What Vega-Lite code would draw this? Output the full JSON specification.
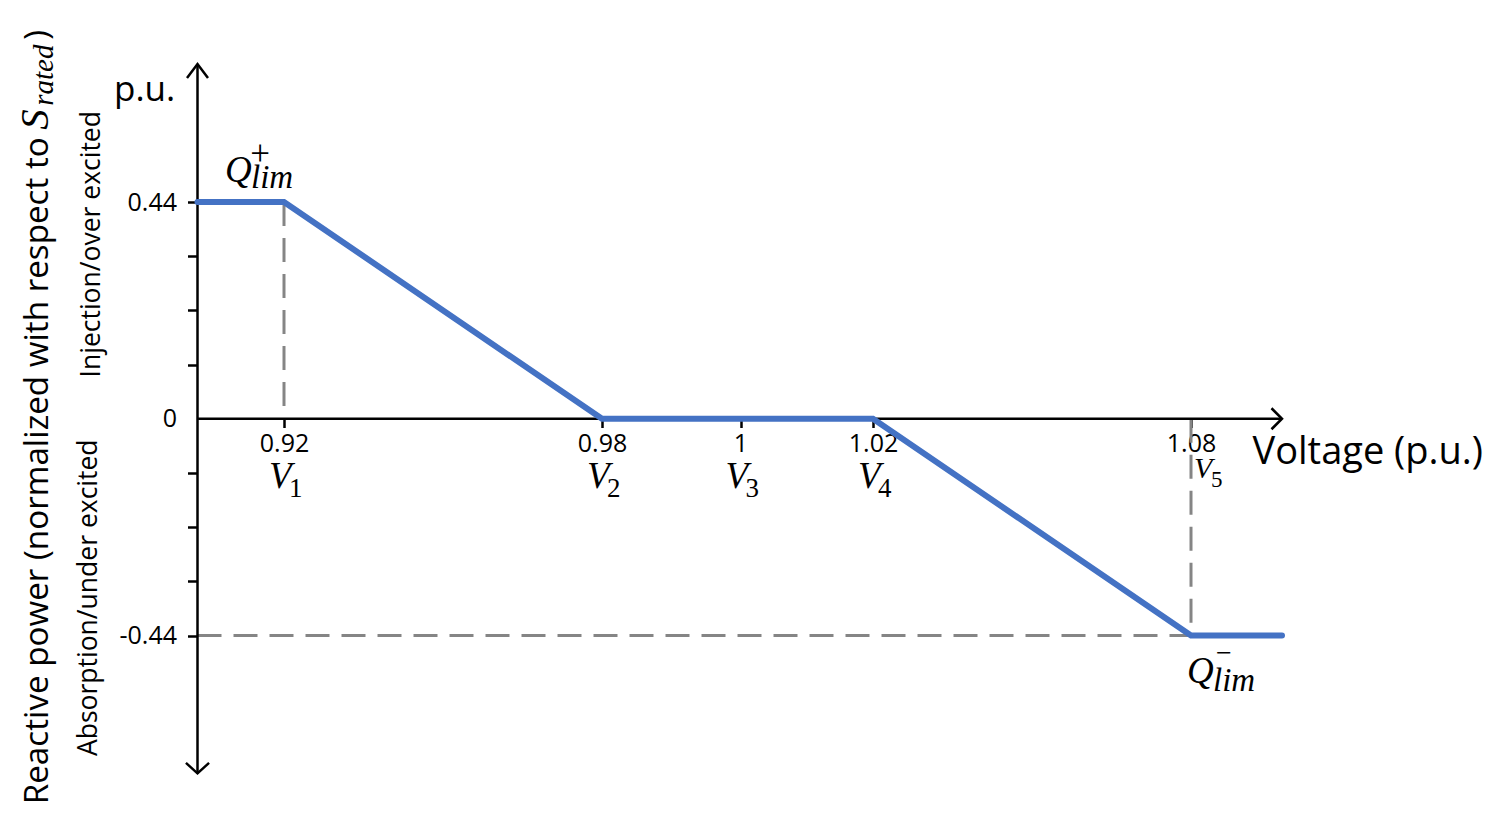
{
  "$schema": "https://vega.github.io/schema/vega-lite/v6.json",
  "width": 1510,
  "height": 827,
  "autosize": {"type": "none"},
  "padding": 0,
  "background": "white",
  "config": {
    "view": {"stroke": null},
    "axis": {
      "grid": false,
      "domain": false,
      "labelFont": "Open Sans",
      "labelFontSize": 25,
      "labelColor": "#000000",
      "tickColor": "#000000",
      "tickWidth": 2.5,
      "titleFont": "Open Sans",
      "titleFontWeight": "normal",
      "titleColor": "#000000",
      "labelFlush": false,
      "labelOverlap": false
    }
  },
  "datasets": {
    "curve": [
      {"x": 0.9, "y": 0.44},
      {"x": 0.92, "y": 0.44},
      {"x": 0.98, "y": 0},
      {"x": 1.02, "y": 0},
      {"x": 1.08, "y": -0.44},
      {"x": 1.1, "y": -0.44}
    ],
    "axislines": [
      {"x": 0.9, "x2": 0.9, "y": -0.72, "y2": 0.72},
      {"x": 0.9, "x2": 1.1, "y": 0, "y2": 0}
    ],
    "arrows": [
      {"x": 0.9, "y": 0.72, "dir": "up"},
      {"x": 0.9, "y": -0.72, "dir": "down"},
      {"x": 1.1, "y": 0, "dir": "right"}
    ],
    "guides": [
      {"x": 0.92, "x2": 0.92, "y": 0.44, "y2": 0},
      {"x": 1.08, "x2": 1.08, "y": 0, "y2": -0.44},
      {"x": 0.9, "x2": 1.08, "y": -0.44, "y2": -0.44}
    ],
    "vlabels": [
      {"x": 0.92, "y": 0, "sub": "1"},
      {"x": 0.98, "y": 0, "sub": "2"},
      {"x": 1, "y": 0, "sub": "3"},
      {"x": 1.02, "y": 0, "sub": "4"},
      {"x": 1.08, "y": 0, "sub": "5"}
    ],
    "qlim": [
      {"x": 0.92, "y": 0.44, "sign": "+"},
      {"x": 1.08, "y": -0.44, "sign": "−"}
    ],
    "origin": [
      {"x": 0.9, "y": 0}
    ]
  },
  "encoding": {
    "x": {
      "field": "x",
      "type": "quantitative",
      "scale": {
        "domain": [0.9, 0.92, 0.98, 1, 1.02, 1.08, 1.1],
        "range": [197.5, 284, 602, 740.5, 873, 1191, 1282],
        "nice": false,
        "zero": false
      },
      "axis": {
        "orient": "bottom",
        "offset": -408.5,
        "values": [0.92, 0.98, 1, 1.02, 1.08],
        "labelExpr": "'' + datum.value",
        "tickSize": 9,
        "labelPadding": 4,
        "title": "Voltage (p.u.)",
        "titleFontSize": 38,
        "titleX": 1252,
        "titleY": 44.5,
        "titleAlign": "left",
        "titleBaseline": "alphabetic"
      }
    },
    "y": {
      "field": "y",
      "type": "quantitative",
      "scale": {
        "domain": [-0.44, 0.44],
        "range": [635.5, 202],
        "nice": false,
        "zero": false
      },
      "axis": {
        "orient": "left",
        "offset": -197.5,
        "values": [0.44, 0.33, 0.22, 0.11, 0, -0.11, -0.22, -0.33, -0.44],
        "labelExpr": "datum.value == 0.44 ? '0.44' : datum.value == -0.44 ? '-0.44' : datum.value == 0 ? '0' : ''",
        "tickSize": 10,
        "tickOpacity": {"condition": {"test": "datum.value == 0", "value": 0}, "value": 1},
        "labelPadding": 11,
        "title": "p.u.",
        "titleFontSize": 35,
        "titleAngle": 0,
        "titleX": -84,
        "titleY": 100,
        "titleAlign": "left",
        "titleBaseline": "alphabetic"
      }
    }
  },
  "layer": [
    {
      "data": {"name": "guides"},
      "mark": {"type": "rule", "stroke": "#858585", "strokeWidth": 3, "strokeDash": [24, 12]},
      "encoding": {"x2": {"field": "x2"}, "y2": {"field": "y2"}}
    },
    {
      "data": {"name": "axislines"},
      "mark": {"type": "rule", "stroke": "#000000", "strokeWidth": 2.5},
      "encoding": {"x2": {"field": "x2"}, "y2": {"field": "y2"}}
    },
    {
      "data": {"name": "arrows"},
      "mark": {"type": "point", "filled": false, "stroke": "#000000", "strokeWidth": 2.5, "size": 441, "opacity": 1, "strokeJoin": "miter"},
      "encoding": {
        "shape": {
          "field": "dir",
          "type": "nominal",
          "scale": {
            "domain": ["up", "down", "right"],
            "range": ["M -1 1.33 L 0 0 L 1 1.33", "M -1.1 -1 L 0 0 L 1.1 -1", "M -1 -1 L 0 0 L -1 1"]
          },
          "legend": null
        }
      }
    },
    {
      "data": {"name": "curve"},
      "mark": {"type": "line", "stroke": "#4472C4", "strokeWidth": 6, "strokeCap": "round", "strokeJoin": "miter"}
    },
    {
      "data": {"name": "origin"},
      "mark": {"type": "text", "text": "Reactive power (normalized with respect to", "angle": 270, "align": "right", "baseline": "alphabetic", "dx": 281.5, "dy": -149.5, "font": "Open Sans", "fontSize": 33.2, "color": "#000000"}
    },
    {
      "data": {"name": "origin"},
      "mark": {"type": "text", "text": "S", "angle": 270, "align": "left", "baseline": "alphabetic", "dx": 289, "dy": -149.5, "font": "Liberation Serif", "fontStyle": "italic", "fontSize": 41, "color": "#000000"}
    },
    {
      "data": {"name": "origin"},
      "mark": {"type": "text", "text": "rated", "angle": 270, "align": "left", "baseline": "alphabetic", "dx": 313, "dy": -145, "font": "Liberation Serif", "fontStyle": "italic", "fontSize": 29, "color": "#000000"}
    },
    {
      "data": {"name": "origin"},
      "mark": {"type": "text", "text": ")", "angle": 270, "align": "left", "baseline": "alphabetic", "dx": 379, "dy": -149.5, "font": "Open Sans", "fontSize": 33.2, "color": "#000000"}
    },
    {
      "data": {"name": "origin"},
      "mark": {"type": "text", "text": "Injection/over excited", "angle": 270, "align": "center", "baseline": "alphabetic", "dx": 174.5, "dy": -97.5, "font": "Open Sans", "fontSize": 26.5, "color": "#000000"}
    },
    {
      "data": {"name": "origin"},
      "mark": {"type": "text", "text": "Absorption/under excited", "angle": 270, "align": "center", "baseline": "alphabetic", "dx": -179, "dy": -100.5, "font": "Open Sans", "fontSize": 26.5, "color": "#000000"}
    },
    {
      "data": {"name": "qlim"},
      "transform": [{"filter": "datum.sign == '+'"}],
      "mark": {"type": "text", "text": "Q", "align": "left", "baseline": "alphabetic", "dx": -59, "dy": -20, "font": "Liberation Serif", "fontStyle": "italic", "fontSize": 37, "color": "#000000"}
    },
    {
      "data": {"name": "qlim"},
      "transform": [{"filter": "datum.sign == '+'"}],
      "mark": {"type": "text", "align": "center", "baseline": "alphabetic", "dx": -24, "dy": -37, "font": "Liberation Serif", "fontSize": 35, "color": "#000000"},
      "encoding": {"text": {"field": "sign"}}
    },
    {
      "data": {"name": "qlim"},
      "transform": [{"filter": "datum.sign == '+'"}],
      "mark": {"type": "text", "text": "lim", "align": "left", "baseline": "alphabetic", "dx": -33, "dy": -14, "font": "Liberation Serif", "fontStyle": "italic", "fontSize": 33, "color": "#000000"}
    },
    {
      "data": {"name": "qlim"},
      "transform": [{"filter": "datum.sign != '+'"}],
      "mark": {"type": "text", "text": "Q", "align": "left", "baseline": "alphabetic", "dx": -4, "dy": 47.5, "font": "Liberation Serif", "fontStyle": "italic", "fontSize": 37, "color": "#000000"}
    },
    {
      "data": {"name": "qlim"},
      "transform": [{"filter": "datum.sign != '+'"}],
      "mark": {"type": "text", "align": "center", "baseline": "alphabetic", "dx": 33, "dy": 26, "font": "Liberation Serif", "fontSize": 28, "color": "#000000"},
      "encoding": {"text": {"field": "sign"}}
    },
    {
      "data": {"name": "qlim"},
      "transform": [{"filter": "datum.sign != '+'"}],
      "mark": {"type": "text", "text": "lim", "align": "left", "baseline": "alphabetic", "dx": 22, "dy": 55, "font": "Liberation Serif", "fontStyle": "italic", "fontSize": 33, "color": "#000000"}
    },
    {
      "data": {"name": "vlabels"},
      "transform": [{"filter": "datum.sub != '5'"}],
      "mark": {"type": "text", "text": "V", "align": "left", "baseline": "alphabetic", "dx": -15, "dy": 69.5, "font": "Liberation Serif", "fontStyle": "italic", "fontSize": 37, "color": "#000000"}
    },
    {
      "data": {"name": "vlabels"},
      "transform": [{"filter": "datum.sub != '5'"}],
      "mark": {"type": "text", "align": "left", "baseline": "alphabetic", "dx": 5, "dy": 78.5, "font": "Liberation Serif", "fontSize": 27, "color": "#000000"},
      "encoding": {"text": {"field": "sub"}}
    },
    {
      "data": {"name": "vlabels"},
      "transform": [{"filter": "datum.sub == '5'"}],
      "mark": {"type": "text", "text": "V", "align": "left", "baseline": "alphabetic", "dx": 3, "dy": 59.5, "font": "Liberation Serif", "fontStyle": "italic", "fontSize": 30, "color": "#000000"}
    },
    {
      "data": {"name": "vlabels"},
      "transform": [{"filter": "datum.sub == '5'"}],
      "mark": {"type": "text", "align": "left", "baseline": "alphabetic", "dx": 20, "dy": 68.5, "font": "Liberation Serif", "fontSize": 23, "color": "#000000"},
      "encoding": {"text": {"field": "sub"}}
    }
  ]
}
